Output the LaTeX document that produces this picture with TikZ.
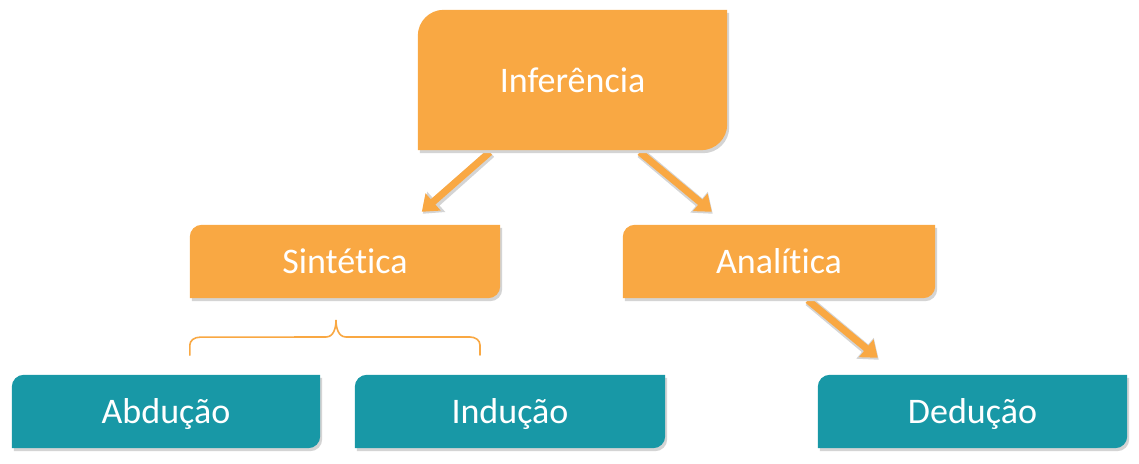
\documentclass[tikz,border=0pt]{standalone}
\usepackage{fontspec}
\setmainfont{Carlito}[Ligatures={NoCommon}]
\usetikzlibrary{arrows.meta,calc,backgrounds}
\definecolor{orng}{HTML}{F9A843}
\definecolor{teal2}{HTML}{1898A6}
\definecolor{shd}{HTML}{D4D4D4}
\tikzset{
  lbl/.style={text=white,font=\fontsize{36}{40}\selectfont,inner sep=0pt,text depth=0pt},
  arr/.style={orng,line width=7pt,-{Triangle[width=22pt,length=15pt]}},
  arrshadow/.style={shd,line width=10pt,-{Triangle[width=26pt,length=18pt]}},
  bracestyle/.style={orng,line width=1.6pt,line cap=round}
}
\newcommand\cardshape[3]{% node, radius, color
  \fill[shd] let \p1=(#1.south west), \p2=(#1.north east) in
    (\x1+2pt,\y1-3pt) -- (\x1+2pt,\y2-#2-3pt) arc[start angle=180,end angle=90,radius=#2]
    -- (\x2+2pt,\y2-3pt) -- (\x2+2pt,\y1+#2-3pt) arc[start angle=0,end angle=-90,radius=#2] -- cycle;
  \fill[#3] let \p1=(#1.south west), \p2=(#1.north east) in
    (\x1,\y1) -- (\x1,\y2-#2) arc[start angle=180,end angle=90,radius=#2]
    -- (\x2,\y2) -- (\x2,\y1+#2) arc[start angle=0,end angle=-90,radius=#2] -- cycle;
}
\begin{document}
\begin{tikzpicture}[x=1pt,y=1pt]
\useasboundingbox (0,0) rectangle (1139,463);
\node[lbl,minimum width=309pt,minimum height=140pt] (inf) at (572.5,383) {Inferência};
\node[lbl,minimum width=310pt,minimum height=73pt] (sin) at (345,201.5) {Sintética};
\node[lbl,minimum width=312pt,minimum height=73pt] (ana) at (779,201.5) {Analítica};
\node[lbl,minimum width=308pt,minimum height=73pt] (abd) at (166,51.5) {Abdução};
\node[lbl,minimum width=310pt,minimum height=73pt] (ind) at (510,51.5) {Indução};
\node[lbl,minimum width=309pt,minimum height=73pt] (ded) at (972.5,51.5) {Dedução};
% arrows
\coordinate (a1s) at ($(inf.south west)+(72,-2)$);
\coordinate (a1e) at ($(sin.north west)+(232,13)$);
\coordinate (a2s) at ($(inf.south west)+(222,-2)$);
\coordinate (a2e) at ($(ana.north west)+(89,13)$);
\coordinate (a3s) at ($(ana.south west)+(185,-2)$);
\coordinate (a3e) at ($(ded.north west)+(60,17)$);
\begin{scope}[on background layer]
  \fill[white] (0,0) rectangle (1139,463);
  \draw[arrshadow] ($(a1s)+(1,-1)$) -- ($(a1e)+(1,-2)$);
  \draw[arrshadow] ($(a2s)+(1,-1)$) -- ($(a2e)+(1,-2)$);
  \draw[arrshadow] ($(a3s)+(1,-1)$) -- ($(a3e)+(1,-2)$);
  \draw[arr] (a1s) -- (a1e);
  \draw[arr] (a2s) -- (a2e);
  \draw[arr] (a3s) -- (a3e);
  \cardshape{inf}{26pt}{orng}
  \cardshape{sin}{12pt}{orng}
  \cardshape{ana}{12pt}{orng}
  \cardshape{abd}{12pt}{teal2}
  \cardshape{ind}{12pt}{teal2}
  \cardshape{ded}{12pt}{teal2}
\end{scope}
% brace
\coordinate (bl) at ($(sin.south west)+(0,-57)$);
\draw[bracestyle] (bl) -- ++(0,10) to[out=90,in=180] ++(10,8) -- (326,126)
  to[out=0,in=-90] (336,143) to[out=-90,in=180] (346,126) -- (470,126)
  to[out=0,in=90] (480,118) -- (480,108);
\end{tikzpicture}
\end{document}
